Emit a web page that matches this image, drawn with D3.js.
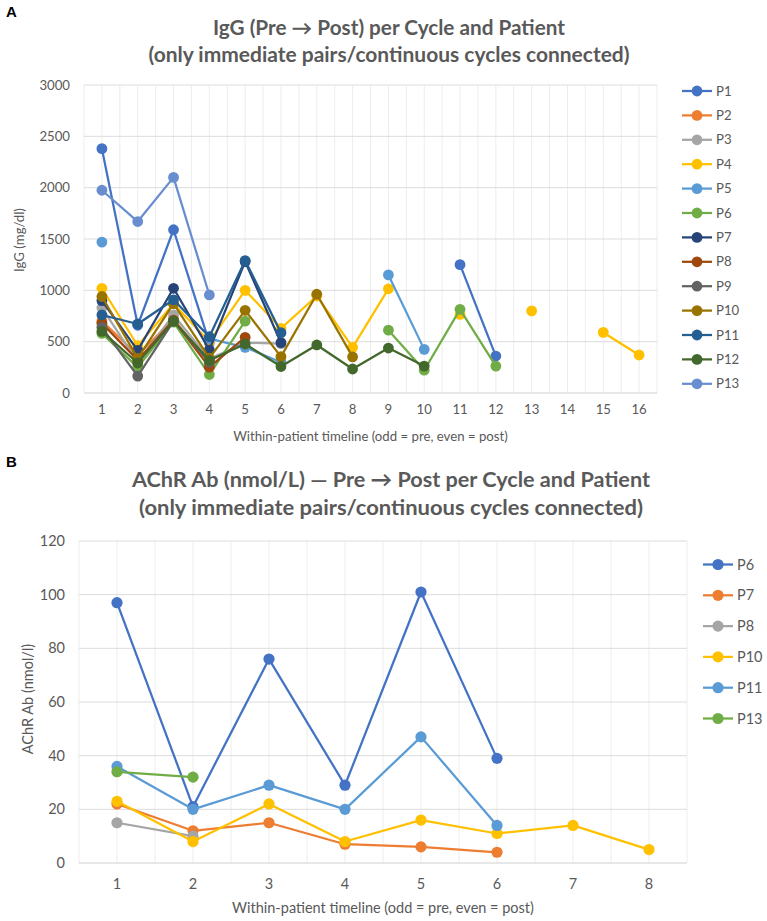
<!DOCTYPE html>
<html>
<head>
<script src="https://d3js.org/d3.v7.min.js"></script>
<style>
  body { margin: 0; background: #fff; }
  text { font-family: Lato, "Open Sans", sans-serif; fill: #595959; }
</style>
</head>
<body>
<div class="chart"></div>
<script>
// ---- data, panel A (IgG mg/dl), null = no value / gap
var iggSteps = d3.range(1, 17);
var iggPatients = ["P1","P2","P3","P4","P5","P6","P7","P8","P9","P10","P11","P12","P13"];
var P1  = [2380, 660, 1590, 490, null, null, null, null, null, null, 1250, 360];
var P2  = [700, 370, 720, 290];
var P3  = [830, 300, 760, 330, 490, 480];
var P4  = [1020, 460, 870, 500, 1000, 630, 945, 445, 1015, null, 765, null, 800, null, 590, 370];
var P5  = [1470, null, null, 530, 445, 300, null, null, 1150, 425];
var P6  = [580, 250, 690, 180, 700, null, null, null, 612, 222, 815, 262];
var P7  = [900, 415, 1020, 420, 1280, 490];
var P8  = [680, 320, 710, 252, 542];
var P9  = [640, 165, 700, 300];
var P10 = [940, 338, 870, 340, 805, 354, 962, 352];
var P11 = [760, 672, 908, 548, 1290, 588];
var P12 = [600, 292, 700, 318, 477, 258, 468, 234, 438, 262];
var P13 = [1975, 1670, 2100, 955];
var iggValues = [P1, P2, P3, P4, P5, P6, P7, P8, P9, P10, P11, P12, P13];
var iggTicks = [0, 500, 1000, 1500, 2000, 2500, 3000];

// ---- data, panel B (AChR Ab nmol/l)
var achrSteps = d3.range(1, 9);
var achrPatients = ["P6","P7","P8","P10","P11","P13"];
var bP6  = [97, 21, 76, 29, 101, 39];
var bP7  = [22, 12, 15, 7, 6, 4];
var bP8  = [15, 10];
var bP10 = [23, 8, 22, 8, 16, 11, 14, 5];
var bP11 = [36, 20, 29, 20, 47, 14];
var bP13 = [34, 32];
var achrValues = [bP6, bP7, bP8, bP10, bP11, bP13];
var achrTicks = [0, 20, 40, 60, 80, 100, 120];

var excelColors = ["#4472C4","#ED7D31","#A5A5A5","#FFC000","#5B9BD5","#70AD47",
                   "#264478","#9E480E","#636363","#997300","#255E91","#43682B","#698ED0"];

var w = 767, h = 921;
var svg = d3.select(".chart").append("svg").attr("width", w).attr("height", h);

function drawPanel(cfg) {
	var g = svg.append("g");
	var x = d3.scaleBand().domain(cfg.steps).range([cfg.left, cfg.right]).paddingInner(0).paddingOuter(0);
	var y = d3.scaleLinear().domain([0, d3.max(cfg.ticks)]).range([cfg.bottom, cfg.top]);
	var bw = x.bandwidth();
	var cx = function(i) { return x(cfg.steps[i]) + bw / 2; };
	var fs = cfg.fontSize + "px";

	// vertical grid lines: band edges and band centres
	var vlines = [];
	cfg.steps.forEach(function(s) { vlines.push(x(s)); vlines.push(x(s) + bw / 2); });
	vlines.push(cfg.right);
	g.append("g").selectAll("line").data(vlines).enter().append("line")
		.attr("x1", function(d) { return d; }).attr("x2", function(d) { return d; })
		.attr("y1", cfg.top).attr("y2", cfg.bottom)
		.attr("stroke", "#EDEDED").attr("stroke-width", 1);

	// horizontal grid lines
	g.append("g").selectAll("line").data(cfg.ticks).enter().append("line")
		.attr("x1", cfg.left).attr("x2", cfg.right)
		.attr("y1", function(d) { return y(d); }).attr("y2", function(d) { return y(d); })
		.attr("stroke", function(d) { return d === 0 ? "#D0D0D0" : "#DCDCDC"; }).attr("stroke-width", 1);

	// y tick labels
	g.append("g").selectAll("text").data(cfg.ticks).enter().append("text")
		.attr("x", cfg.left - 14).attr("y", function(d) { return y(d) + cfg.fontSize * 0.35; })
		.attr("text-anchor", "end").style("font-size", fs)
		.text(function(d) { return d; });

	// x tick labels
	g.append("g").selectAll("text").data(cfg.steps).enter().append("text")
		.attr("x", function(d) { return x(d) + bw / 2; }).attr("y", cfg.tickY)
		.attr("text-anchor", "middle").style("font-size", fs)
		.text(function(d) { return d; });

	// axis titles
	g.append("text").attr("x", (cfg.left + cfg.right) / 2).attr("y", cfg.xTitleY)
		.attr("text-anchor", "middle").style("font-size", fs)
		.text("Within-patient timeline (odd = pre, even = post)");
	g.append("text").attr("transform", "translate(" + cfg.yTitleX + "," + cfg.yTitleMid + ") rotate(-90)")
		.attr("text-anchor", "middle").style("font-size", fs)
		.text(cfg.yTitle);

	// titles
	cfg.title.forEach(function(t, i) {
		g.append("text").attr("x", cfg.titleX).attr("y", cfg.titleY[i])
			.attr("text-anchor", "middle").style("font-size", cfg.titleSize + "px").style("font-weight", "bold")
			.attr("textLength", cfg.titleLen[i]).attr("lengthAdjust", "spacingAndGlyphs")
			.text(t);
	});
	g.append("text").attr("x", 6).attr("y", cfg.letterY)
		.style("font-family", "'Liberation Sans', Arial, sans-serif").style("font-weight", "bold")
		.style("font-size", "15px").style("fill", "#000").text(cfg.letter);

	// series
	var line = d3.line()
		.defined(function(d) { return d.v != null; })
		.x(function(d) { return cx(d.i); })
		.y(function(d) { return y(d.v); });

	cfg.values.forEach(function(vals, k) {
		var pts = vals.map(function(v, i) { return { i: i, v: v }; });
		var col = cfg.colors[k];
		var s = g.append("g").attr("class", "series");
		s.append("path").datum(pts).attr("d", line)
			.attr("fill", "none").attr("stroke", col).attr("stroke-width", 2.25)
			.attr("stroke-linejoin", "round");
		s.selectAll("circle").data(pts.filter(function(d) { return d.v != null; })).enter()
			.append("circle")
			.attr("cx", function(d) { return cx(d.i); })
			.attr("cy", function(d) { return y(d.v); })
			.attr("r", cfg.r).attr("fill", col);
	});

	// legend
	var lg = g.append("g").selectAll("g").data(cfg.names).enter().append("g")
		.attr("transform", function(d, i) { return "translate(" + cfg.legX + "," + (cfg.legY + i * cfg.legStep) + ")"; });
	lg.append("line").attr("x1", 0).attr("x2", 30).attr("y1", 0).attr("y2", 0)
		.attr("stroke", function(d, i) { return cfg.colors[i]; }).attr("stroke-width", 2.25);
	lg.append("circle").attr("cx", 15).attr("cy", 0).attr("r", cfg.r)
		.attr("fill", function(d, i) { return cfg.colors[i]; });
	lg.append("text").attr("x", 34).attr("y", cfg.fontSize * 0.35).style("font-size", fs)
		.text(function(d) { return d; });
}

drawPanel({
	steps: iggSteps, values: iggValues, names: iggPatients, ticks: iggTicks,
	colors: excelColors, fontSize: 13.2,
	left: 84, right: 657, top: 85, bottom: 393,
	tickY: 414, xTitleY: 441, yTitleX: 24, yTitleMid: 240, yTitle: "IgG (mg/dl)",
	title: ["IgG (Pre \u2192 Post) per Cycle and Patient", "(only immediate pairs/continuous cycles connected)"],
	titleX: 389, titleY: [35, 62], titleSize: 20, titleLen: [352, 481],
	letter: "A", letterY: 17,
	r: 5.4,
	legX: 682, legY: 91, legStep: 24.4
});

drawPanel({
	steps: achrSteps, values: achrValues, names: achrPatients, ticks: achrTicks,
	colors: excelColors.slice(0, 6), fontSize: 14.5,
	left: 79, right: 687, top: 541, bottom: 863,
	tickY: 889, xTitleY: 913, yTitleX: 33, yTitleMid: 699, yTitle: "AChR Ab (nmol/l)",
	title: ["AChR Ab (nmol/L) \u2014 Pre \u2192 Post per Cycle and Patient", "(only immediate pairs/continuous cycles connected)"],
	titleX: 391, titleY: [487, 515], titleSize: 21, titleLen: [518, 504],
	letter: "B", letterY: 467,
	r: 5.6,
	legX: 703, legY: 564.5, legStep: 30.8
});
</script>
</body>
</html>
